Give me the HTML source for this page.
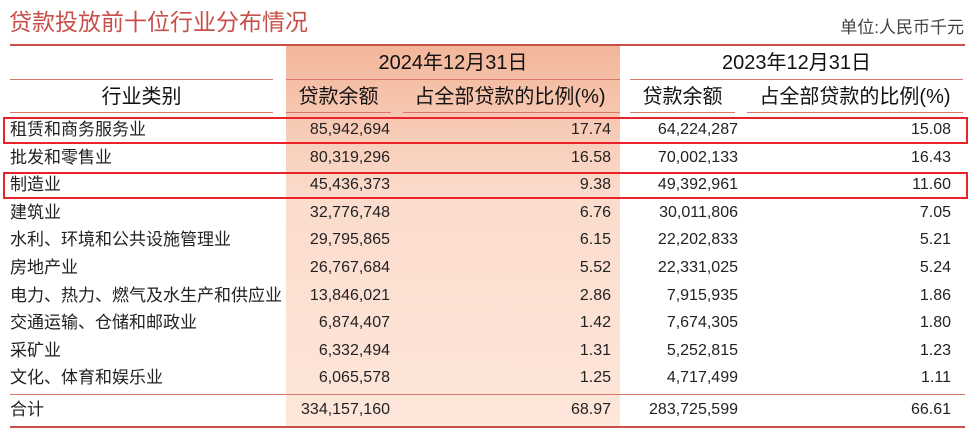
<!DOCTYPE html>
<html><head><meta charset="utf-8"><style>
body{margin:0;width:974px;height:432px;background:#fff;position:relative;overflow:hidden;font-family:"Liberation Sans","Noto Sans CJK SC",sans-serif;color:#222}
.a{position:absolute;white-space:nowrap;line-height:22px;height:22px}
.ln{position:absolute;background:#d9776a}
.h{font-size:20px;color:#111;line-height:26px;height:26px}
.box{position:absolute;border:2px solid #e8232a;left:3px;width:961px;height:23px}
</style></head><body>
<div class="a" style="left:9px;top:8px;font-size:23px;line-height:28px;height:28px;color:#c8504a">贷款投放前十位行业分布情况</div>
<div class="a" style="right:10px;top:17px;font-size:17px;color:#444">单位:人民币千元</div>
<div class="ln" style="left:10px;top:44px;width:955px;height:2px;background:#c8504a"></div>
<div class="a" style="left:286px;top:46px;width:334px;height:381px;background:linear-gradient(#f3b69a,#fbdccd 40%,#fde6da)"></div>
<div class="ln" style="left:10px;top:79px;width:263px;height:1px"></div>
<div class="ln" style="left:286px;top:79px;width:334px;height:1px"></div>
<div class="ln" style="left:630px;top:79px;width:333px;height:1px"></div>
<div class="ln" style="left:10px;top:112px;width:263px;height:1px"></div>
<div class="ln" style="left:286px;top:112px;width:105px;height:1px"></div>
<div class="ln" style="left:403px;top:112px;width:217px;height:1px"></div>
<div class="ln" style="left:630px;top:112px;width:105px;height:1px"></div>
<div class="ln" style="left:747px;top:112px;width:216px;height:1px"></div>
<div class="a h" style="left:286px;width:334px;text-align:center;top:50px">2024年12月31日</div>
<div class="a h" style="left:630px;width:333px;text-align:center;top:50px">2023年12月31日</div>
<div class="a h" style="left:10px;width:263px;text-align:center;top:84px">行业类别</div>
<div class="a h" style="left:286px;width:105px;text-align:center;top:84px">贷款余额</div>
<div class="a h" style="left:400px;width:220px;text-align:center;top:84px">占全部贷款的比例(%)</div>
<div class="a h" style="left:630px;width:105px;text-align:center;top:84px">贷款余额</div>
<div class="a h" style="left:745px;width:220px;text-align:center;top:84px">占全部贷款的比例(%)</div>
<div class="box" style="top:117px"></div>
<div class="box" style="top:172px"></div>
<div class="ln" style="left:10px;top:394px;width:955px;height:1px"></div>
<div class="ln" style="left:10px;top:426px;width:955px;height:2px;background:#c8504a"></div>
<div id="rows"></div>
<script>
const names=["租赁和商务服务业","批发和零售业","制造业","建筑业","水利、环境和公共设施管理业","房地产业","电力、热力、燃气及水生产和供应业","交通运输、仓储和邮政业","采矿业","文化、体育和娱乐业","合计"];
const amt24=["85,942,694","80,319,296","45,436,373","32,776,748","29,795,865","26,767,684","13,846,021","6,874,407","6,332,494","6,065,578","334,157,160"];
const pct24=["17.74","16.58","9.38","6.76","6.15","5.52","2.86","1.42","1.31","1.25","68.97"];
const amt23=["64,224,287","70,002,133","49,392,961","30,011,806","22,202,833","22,331,025","7,915,935","7,674,305","5,252,815","4,717,499","283,725,599"];
const pct23=["15.08","16.43","11.60","7.05","5.21","5.24","1.86","1.80","1.23","1.11","66.61"];
const c=document.getElementById('rows');
names.forEach((n,i)=>{
  const y=(i<10?119+i*27.6:399);
  const cells=[[n,10,null],[amt24[i],null,584],[pct24[i],null,363],[amt23[i],null,236],[pct23[i],null,23]];
  cells.forEach((cl,j)=>{
    const d=document.createElement('div');
    
    
    d.className='a';
    d.style.top=y+'px';d.style.fontSize=(j===0?'17px':'16px');
    if(cl[1]!==null)d.style.left=cl[1]+'px';else d.style.right=cl[2]+'px';
    d.textContent=cl[0];
    c.appendChild(d);
  });
});
</script>
</body></html>
